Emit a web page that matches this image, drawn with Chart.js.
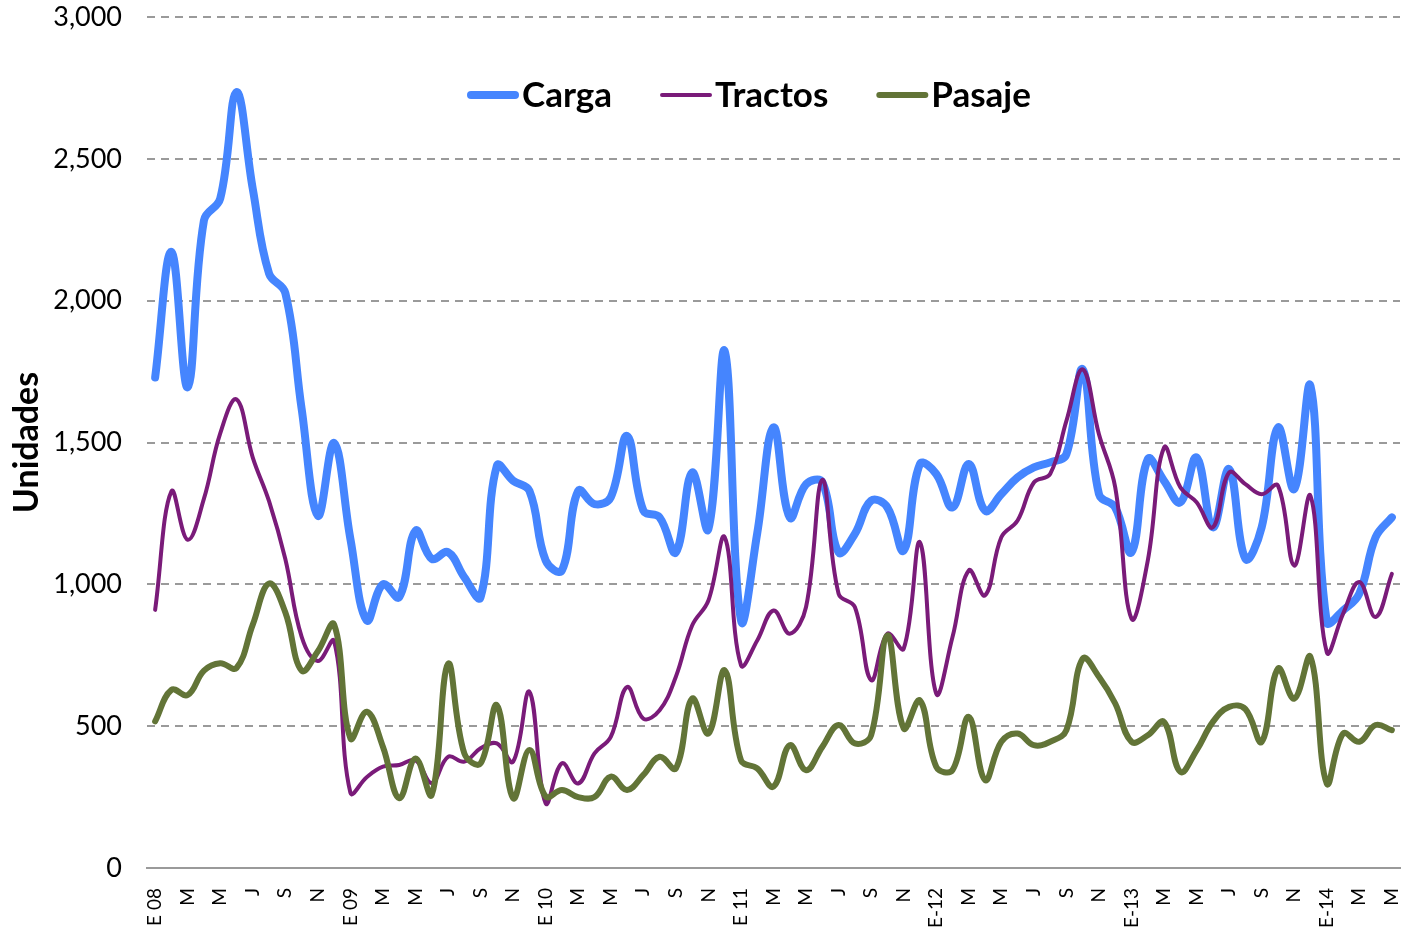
<!DOCTYPE html>
<html>
<head>
<meta charset="utf-8">
<script src="https://cdn.jsdelivr.net/npm/chart.js@4/dist/chart.umd.min.js"></script>
<style>
  html, body { margin: 0; padding: 0; background: #fff; }
</style>
</head>
<body>
<canvas id="canvas" width="1408" height="931"></canvas>
<script>
// month ticks: only every second month gets a letter, January carries the year
var yearLabels = ["E 08", "E 09", "E 10", "E 11", "E-12", "E-13", "E-14"];
var monthTicks = ["", "", "M", "", "M", "", "J", "", "S", "", "N", ""];

var carga = [
    1729, 2172, 1695, 2283, 2360, 2735, 2394, 2096, 2027, 1620, 1242, 1498,
    1160, 873, 1000, 955, 1189, 1090, 1113, 1025, 955, 1418, 1365, 1330,
    1084, 1049, 1330, 1283, 1307, 1523, 1260, 1236, 1113, 1394, 1195, 1822,
    873, 1180, 1553, 1236, 1353, 1360, 1113, 1178, 1295, 1271, 1119, 1424,
    1389, 1271, 1424, 1260, 1318, 1377, 1412, 1430, 1459, 1758, 1318, 1271,
    1113, 1441, 1365, 1289, 1447, 1201, 1406, 1090, 1201, 1553, 1336, 1699,
    867, 908, 967, 1166, 1236
];
var tractos = [
    910, 1328, 1157, 1302, 1532, 1652, 1447, 1293, 1089, 816, 730, 800,
    265, 320, 357, 363, 380, 300, 392, 375, 422, 439, 375, 621,
    228, 369, 298, 404, 462, 638, 527, 556, 674, 855, 943, 1166,
    715, 802, 908, 826, 920, 1368, 967, 920, 662, 826, 773, 1148,
    615, 814, 1049, 961, 1166, 1225, 1359, 1389, 1576, 1758, 1529, 1342,
    879, 1084, 1482, 1342, 1289, 1201, 1394, 1353, 1318, 1348, 1066, 1312,
    761, 896, 1008, 885, 1037
];
var pasaje = [
    517, 628, 610, 696, 722, 705, 858, 1003, 901, 696, 764, 858,
    457, 551, 427, 246, 386, 258, 720, 404, 369, 574, 246, 416,
    252, 275, 250, 250, 322, 275, 328, 392, 351, 597, 474, 697,
    380, 351, 287, 433, 345, 427, 504, 439, 468, 820, 492, 591,
    357, 345, 533, 310, 445, 474, 433, 445, 486, 738, 674, 580,
    445, 468, 515, 339, 415, 515, 568, 560, 445, 703, 597, 744,
    298, 474, 445, 504, 486
];

var labels = [];
for (var i = 0; i < carga.length; i++) {
    var m = i % 12;
    labels.push(m === 0 ? yearLabels[Math.floor(i / 12)] : monthTicks[m]);
}

// legend drawn inside the plot area, like the original
var inlineLegend = {
    id: "inlineLegend",
    afterDraw: function (chart) {
        var ctx = chart.ctx;
        var area = chart.chartArea;
        var lineLen = 52, textGap = 3, itemGap = 48;
        var x = area.left + 320;
        var y = area.top + 78;
        ctx.save();
        ctx.font = "bold 35px Lato";
        ctx.textBaseline = "middle";
        ctx.lineCap = "round";
        chart.data.datasets.forEach(function (ds) {
            ctx.strokeStyle = ds.borderColor;
            ctx.lineWidth = ds.borderWidth;
            ctx.beginPath();
            ctx.moveTo(x + ds.borderWidth / 2, y);
            ctx.lineTo(x + lineLen - ds.borderWidth / 2, y);
            ctx.stroke();
            x += lineLen + textGap;
            ctx.fillStyle = "#000";
            ctx.fillText(ds.label, x, y + 1);
            x += ctx.measureText(ds.label).width + itemGap;
        });
        ctx.restore();
    }
};

var config = {
    type: "line",
    data: {
        labels: labels,
        datasets: [
            {
                label: "Carga",
                data: carga,
                borderColor: "#4585fe",
                borderWidth: 8,
                order: 2
            },
            {
                label: "Tractos",
                data: tractos,
                borderColor: "#7a1b79",
                borderWidth: 4,
                order: 1
            },
            {
                label: "Pasaje",
                data: pasaje,
                borderColor: "#627437",
                borderWidth: 6,
                order: 0
            }
        ]
    },
    options: {
        responsive: false,
        animation: false,
        layout: {
            padding: { left: 0, right: 8, top: 17, bottom: 0 }
        },
        elements: {
            point: { radius: 0 },
            line: {
                tension: 0.4,
                fill: false,
                borderCapStyle: "round",
                borderJoinStyle: "round"
            }
        },
        plugins: {
            legend: { display: false },
            tooltip: { enabled: false }
        },
        scales: {
            x: {
                offset: true,
                grid: { display: false },
                border: { display: true, color: "#9a9a9a", width: 2 },
                ticks: {
                    autoSkip: false,
                    minRotation: 90,
                    maxRotation: 90,
                    padding: 12,
                    color: "#000",
                    font: { family: "Lato", size: 19 }
                },
                afterFit: function (scale) {
                    scale.height = 63;
                    scale.paddingLeft = 0;
                    scale.paddingRight = 0;
                }
            },
            y: {
                min: 0,
                max: 3000,
                border: { display: false, dash: [8, 6] },
                grid: {
                    color: "#9a9a9a",
                    lineWidth: 2,
                    drawTicks: false
                },
                ticks: {
                    stepSize: 500,
                    padding: 25,
                    color: "#000",
                    font: { family: "Lato", size: 27 },
                    callback: function (v) {
                        return v.toLocaleString("en-US");
                    }
                },
                title: {
                    display: true,
                    text: "Unidades",
                    color: "#000",
                    font: { family: "Lato", size: 34, weight: "bold" },
                    padding: { top: 7, bottom: 0 }
                },
                afterFit: function (scale) {
                    scale.width = 147;
                    scale.paddingTop = 0;
                    scale.paddingBottom = 0;
                }
            }
        }
    },
    plugins: [inlineLegend]
};

window.onload = function () {
    var ctx = document.getElementById("canvas").getContext("2d");
    window.myLine = new Chart(ctx, config);
};
</script>
</body>
</html>
